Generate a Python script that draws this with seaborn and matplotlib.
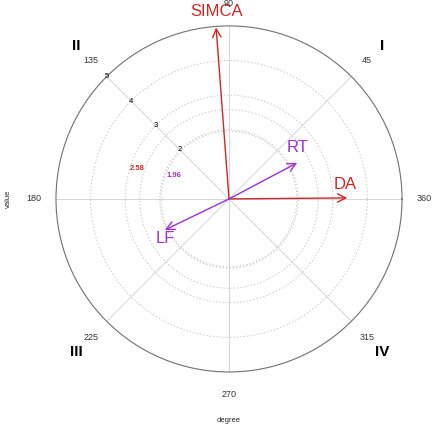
import numpy as np
import matplotlib
matplotlib.use('Agg')
import matplotlib.pyplot as plt
import seaborn as sns

sns.set_theme(style='white')
plt.rcParams['font.family'] = ['Liberation Sans', 'DejaVu Sans']

# Data
methods = ['SIMCA', 'DA', 'RT', 'LF']
angles_deg = [94.3, 0.5, 27.9, 205.8]
values = [4.97, 3.42, 2.23, 2.06]
method_colors = ['#CD2626', '#CD2626', '#9A32CD', '#9A32CD']

angle_ticks = [0, 45, 90, 135, 180, 225, 270, 315]
angle_labels = ['360', '45', '90', '135', '180', '225', '270', '315']
quadrants = ['I', 'II', 'III', 'IV']
quadrant_angles = [45, 135, 225, 315]
radial_ticks = [2, 3, 4, 5]
crit_values = [1.96, 2.58]
crit_colors = ['#9A32CD', '#CD2626']

fig = plt.figure(figsize=(4.32, 4.32), dpi=100)
ax = fig.add_axes([0.1296, 0.139, 0.801, 0.801], projection='polar')
ax.set_ylim(0, 5)
ax.set_xticks(np.radians(angle_ticks))
ax.set_xticklabels([])
ax.set_yticks([2, 3, 4])
ax.set_yticklabels([])
ax.xaxis.grid(True, color='#CFCFCF', lw=0.6, ls='-')
ax.yaxis.grid(True, color='#C8C8C8', lw=0.7, ls=(0, (1.5, 2)))
ax.spines['polar'].set_color('#707070')
ax.spines['polar'].set_linewidth(0.8)

# critical value circles
theta = np.linspace(0, 2 * np.pi, 400)
for cv in crit_values:
    ax.plot(theta, np.full_like(theta, cv), color='#C8C8C8', lw=0.7, ls=(0, (1.5, 2)))

# arrows
for name, a, v, c in zip(methods, angles_deg, values, method_colors):
    t = np.radians(a)
    ax.annotate('', xy=(t, v), xytext=(0, 0),
                arrowprops=dict(arrowstyle='->', color=c, lw=1.0,
                                mutation_scale=15, shrinkA=0, shrinkB=0))

label_offsets = [(0, 11.5), (-1.5, 10), (0, 11), (0, -6)]
for name, a, v, c, off in zip(methods, angles_deg, values, method_colors, label_offsets):
    ax.annotate(name, xy=(np.radians(a), v), xytext=off, textcoords='offset points',
                ha='center', va='center', color=c, fontsize=12, annotation_clip=False)

# angle labels
for a, lab in zip(angle_ticks, angle_labels):
    ax.text(np.radians(a), 5.65, lab, ha='center', va='center', fontsize=6.5,
            color='#333333', clip_on=False)

for a, q in zip(quadrant_angles, quadrants):
    ax.text(np.radians(a), 6.25, q, ha='center', va='center', fontsize=11,
            fontweight='bold', color='black', clip_on=False)

for r in radial_ticks:
    ax.text(np.radians(135), r, str(r), ha='center', va='center', fontsize=5.5,
            color='black', clip_on=False)

ax.text(np.radians(162), 2.8, '2.58', ha='center', va='center', fontsize=5.5,
        fontweight='bold', color=crit_colors[1])
ax.text(np.radians(157), 1.73, '1.96', ha='center', va='center', fontsize=5.5,
        fontweight='bold', color=crit_colors[0])

fig.text(229 / 432, 1 - 420 / 432, 'degree', ha='center', va='center', fontsize=5.5)
fig.text(8 / 432, 1 - 199 / 432, 'value', ha='center', va='center', fontsize=5.5,
         rotation=90)

fig.savefig('out.png', dpi=100)
